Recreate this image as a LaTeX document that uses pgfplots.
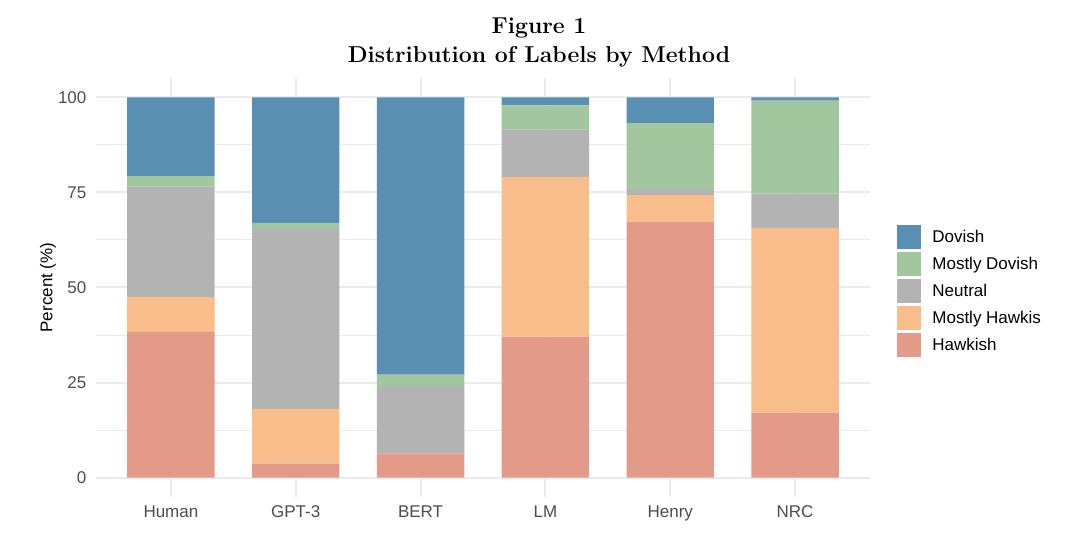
\documentclass[border=0pt]{standalone}
\usepackage{fontspec}
\usepackage{pgfplots}
\usepackage{pgfplotstable}
\pgfplotsset{compat=1.18}
\newfontfamily\arial{Liberation Sans}
\newcommand\chartfont{\arial\fontsize{8.5}{10}\selectfont}

\definecolor{cDovish}{RGB}{89,143,179}
\definecolor{cMDovish}{RGB}{162,199,158}
\definecolor{cNeutral}{RGB}{179,179,179}
\definecolor{cMHawkish}{RGB}{249,189,140}
\definecolor{cHawkish}{RGB}{228,154,136}
\definecolor{gridgrey}{RGB}{235,235,235}
\definecolor{ticktext}{RGB}{77,77,77}

% percent of labels per method, bottom to top
\pgfplotstableread{
x  H     MH    N     MD    D
0  38.3  9.2   29.0  2.8   20.7
1  3.7   14.4  47.3  1.6   33.0
2  6.4   0.0   17.7  3.0   72.9
3  37.1  41.9  12.6  6.3   2.1
4  67.3  7.0   1.6   17.3  6.8
5  17.1  48.6  9.0   24.4  0.9
}\methods

\begin{document}
\begin{tikzpicture}
\begin{axis}[name=ax,
    scale only axis, width=387pt, height=209.2pt,
    ybar stacked, bar width=0.7,
    xmin=-0.6, xmax=5.6, ymin=-5, ymax=105,
    xtick=data, xticklabels={Human,GPT-3,BERT,LM,Henry,NRC},
    ytick={0,25,50,75,100}, minor ytick={12.5,37.5,62.5,87.5},
    grid=both,
    major grid style={draw=gridgrey, line width=1pt},
    minor grid style={draw=gridgrey, line width=0.5pt},
    axis line style={draw=none}, tick style={draw=none},
    major tick length=0pt, minor tick length=0pt,
    /pgf/number format/assume math mode=true,
    ticklabel style={font=\chartfont, text=ticktext, inner sep=0pt},
    yticklabel style={anchor=east, xshift=-4.6pt},
    xticklabel style={anchor=north, yshift=-4.2pt},
    ylabel={Percent (\%)},
    ylabel style={font=\chartfont, at={(axis description cs:0,0.5)}, anchor=center, yshift=24pt},
    every axis plot post/.append style={
        draw=none,
        legend image code/.code={\fill[##1,draw=none] (0pt,-6pt) rectangle (12pt,6pt); \path (17.5pt,0pt);}},
    reverse legend,
    legend cell align=left,
    legend style={at={(1,1)}, anchor=north west, xshift=13.5pt, yshift=-73.35pt,
        draw=none, fill=none, inner sep=0pt, row sep=1.5pt, column sep=0pt,
        font=\chartfont, nodes={inner sep=0pt}},
]
\addplot[fill=cHawkish] table[x=x, y=H] {\methods};
\addlegendentry{Hawkish}
\addplot[fill=cMHawkish] table[x=x, y=MH] {\methods};
\addlegendentry{Mostly Hawkis}
\addplot[fill=cNeutral] table[x=x, y=N] {\methods};
\addlegendentry{Neutral}
\addplot[fill=cMDovish] table[x=x, y=MD] {\methods};
\addlegendentry{Mostly Dovish}
\addplot[fill=cDovish] table[x=x, y=D] {\methods};
\addlegendentry{Dovish}
\end{axis}
\pgfresetboundingbox
\path[use as bounding box] ([xshift=-48pt,yshift=-18.15pt]ax.south west) rectangle ++(539pt,266.5pt);
\node[anchor=base, font=\fontsize{11.5}{13}\selectfont\bfseries] at ([xshift=221.5pt,yshift=22.4pt]ax.north west) {Figure 1};
\node[anchor=base, font=\fontsize{11.5}{13}\selectfont\bfseries] at ([xshift=221.5pt,yshift=7.9pt]ax.north west) {Distribution of Labels by Method};
\end{tikzpicture}
\end{document}
